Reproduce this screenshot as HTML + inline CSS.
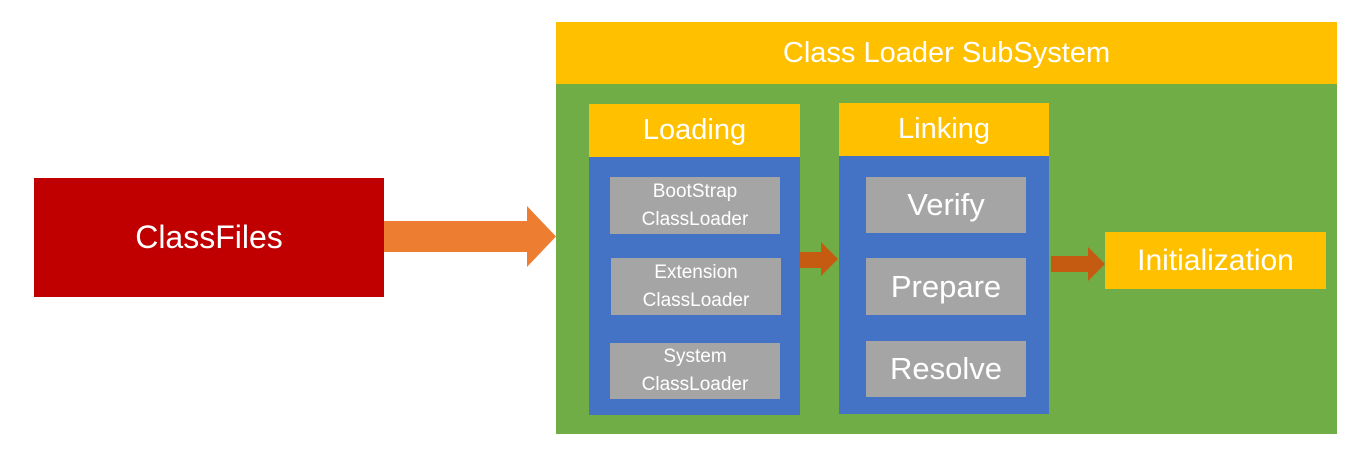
<!DOCTYPE html>
<html><head><style>
body{margin:0;width:1357px;height:457px;background:#fff;position:relative;overflow:hidden;font-family:"Liberation Sans","DejaVu Sans",sans-serif;color:#fff}
div{position:absolute;box-sizing:border-box;display:flex;align-items:center;justify-content:center;text-align:center}
.g{background:#a5a5a5;line-height:28px}
</style></head><body>
<div style="left:34px;top:178px;width:350px;height:119px;background:#c00000;font-size:32px">ClassFiles</div>
<div style="left:556px;top:22px;width:781px;height:62px;background:#ffc000;font-size:29px">Class Loader SubSystem</div>
<div style="left:556px;top:84px;width:781px;height:350px;background:#70ad47"></div>
<div style="left:589px;top:104px;width:211px;height:53px;background:#ffc000;font-size:29px">Loading</div>
<div style="left:589px;top:157px;width:211px;height:258px;background:#4472c4"></div>
<div class="g" style="left:610px;top:177px;width:170px;height:57px;font-size:19px">BootStrap<br>ClassLoader</div>
<div class="g" style="left:611px;top:258px;width:170px;height:57px;font-size:19px">Extension<br>ClassLoader</div>
<div class="g" style="left:610px;top:343px;width:170px;height:56px;font-size:19px">System<br>ClassLoader</div>
<div style="left:839px;top:103px;width:210px;height:53px;background:#ffc000;font-size:29px">Linking</div>
<div style="left:839px;top:156px;width:210px;height:258px;background:#4472c4"></div>
<div class="g" style="left:866px;top:177px;width:160px;height:56px;font-size:31px">Verify</div>
<div class="g" style="left:866px;top:258px;width:160px;height:57px;font-size:31px">Prepare</div>
<div class="g" style="left:866px;top:341px;width:160px;height:56px;font-size:31px">Resolve</div>
<div style="left:1105px;top:232px;width:221px;height:57px;background:#ffc000;font-size:30px">Initialization</div>
<svg style="position:absolute;left:0;top:0" width="1357" height="457">
<polygon points="384,221 527,221 527,206 556,236.5 527,267 527,252 384,252" fill="#ed7d31"/>
<polygon points="800,252 821,252 821,242 838,259 821,276 821,268 800,268" fill="#c55a11"/>
<polygon points="1051,256 1088,256 1088,247 1105,264 1088,281 1088,272 1051,272" fill="#c55a11"/>
</svg>
</body></html>
